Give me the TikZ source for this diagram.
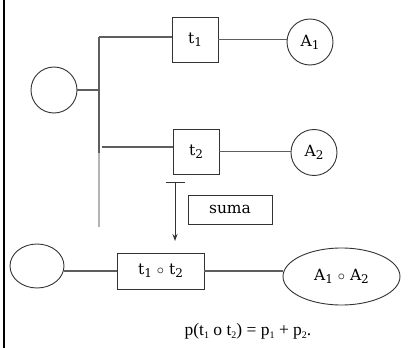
\documentclass[tikz,border=0pt]{standalone}
\usepackage{fontspec}
\setmainfont{Liberation Serif}
\newfontfamily\labelfont{DejaVu Serif}
\usetikzlibrary{arrows.meta,shapes.geometric}
\definecolor{ink}{HTML}{333333}
\definecolor{wire}{HTML}{5E5E5E}
\definecolor{faint}{HTML}{B4B4B4}
\newcommand\lowidx[1]{\raisebox{-0.35ex}{\fontsize{12}{12}\selectfont #1}}

\begin{document}
\begin{tikzpicture}[x=1pt,y=-1pt, >=Stealth,
  every node/.style={font=\labelfont\fontsize{15.5}{18}\selectfont,inner sep=0pt},
  trans/.style={draw=ink,line width=0.9pt,rectangle,minimum width=46pt,minimum height=45pt},
  place/.style={draw=ink,line width=0.9pt,circle,minimum size=46pt},
  oval/.style={draw=ink,line width=0.9pt,ellipse},
  wireline/.style={wire,line width=1.2pt}]
\useasboundingbox (0,0) rectangle (408,348);
\draw[black,line width=1pt] (4,0) -- (4,348);
% upper net
\node[place] (p0) at (54,90) {};
\node[trans] (t1) at (195,39.5) {t\lowidx{1}};
\node[trans] (t2) at (196,151.5) {t\lowidx{2}};
\node[place] (a1) at (310,42) {A\lowidx{1}};
\node[place] (a2) at (314,152.5) {A\lowidx{2}};
\coordinate (jtop) at (99,37);
\coordinate (jmid) at (102,147);
\coordinate (jbot) at (99,153);
\coordinate (jend) at (99,227);
\draw[wireline] (jtop) -- (jbot);
\draw[faint,line width=1.2pt] (jbot) -- (jend);
\draw[wireline] (p0.east) -- (p0.east -| jtop);
\draw[wireline] (jtop) -- (jtop -| t1.west);
\draw[wireline] (jmid) -- (jmid -| t2.west);
\draw[wireline] (t1.east) -- (t1.east -| a1.west);
\draw[wireline] (t2.east) -- (t2.east -| a2.west);
% operation
\coordinate (op0) at (175,182);
\coordinate (op1) at (175,241);
\draw[ink,line width=1pt,{Bar[width=19pt]}-{Stealth[length=7pt,width=5pt]}] (op0) -- (op1);
\node[draw=ink,line width=0.9pt,minimum width=84pt,minimum height=29pt] (sum) at (230,209.5) {suma};
% merged net
\node[oval,minimum width=54pt,minimum height=44pt] (q0) at (37,266) {};
\node[trans,minimum width=87pt,minimum height=36pt] (tt) at (160.5,271) {t\lowidx{1} $\circ$ t\lowidx{2}};
\node[oval,minimum width=117pt,minimum height=57pt] (aa) at (341.5,276.5) {A\lowidx{1} $\circ$ A\lowidx{2}};
\draw[wireline] (tt.west) -- (tt.west -| q0.east);
\draw[wireline] (tt.east) -- (tt.east -| aa.west);
\node[font=\fontsize{17.5}{20}\selectfont] (eq) at (248,331)
  {p(t\raisebox{-0.45ex}{\fontsize{10}{10}\selectfont 1} o t\raisebox{-0.45ex}{\fontsize{10}{10}\selectfont 2}) = p\raisebox{-0.45ex}{\fontsize{10}{10}\selectfont 1} + p\raisebox{-0.45ex}{\fontsize{10}{10}\selectfont 2}.};
\end{tikzpicture}
\end{document}
